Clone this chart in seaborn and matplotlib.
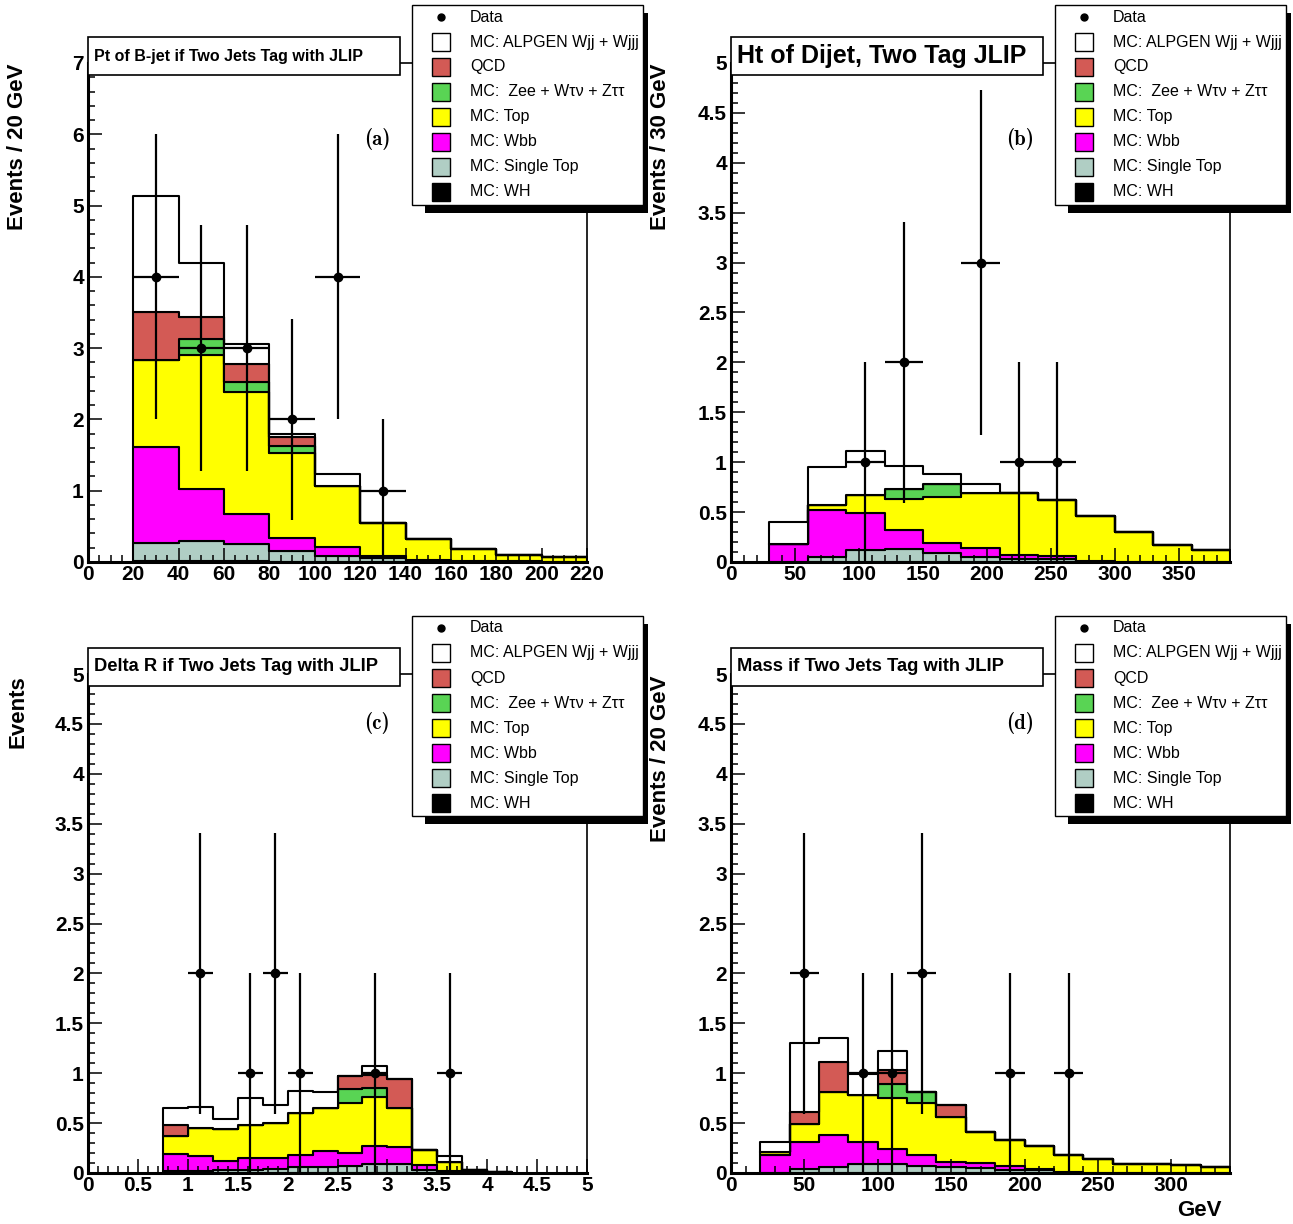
import numpy as np
import pandas as pd
import matplotlib
matplotlib.use("Agg")
import matplotlib.pyplot as plt
from matplotlib.patches import Rectangle
from matplotlib.lines import Line2D
from matplotlib.ticker import MultipleLocator, FuncFormatter
import seaborn as sns

# ---------------------------------------------------------------- data
PROCESSES = ["MC: WH", "MC: Single Top", "MC: Wbb", "MC: Top",
             "MC:  Zee + Wτν + Zττ", "QCD", "MC: ALPGEN Wjj + Wjjj"]
LEGEND_ORDER = ["MC: ALPGEN Wjj + Wjjj", "QCD", "MC:  Zee + Wτν + Zττ",
                "MC: Top", "MC: Wbb", "MC: Single Top", "MC: WH"]
COLORS = {"MC: ALPGEN Wjj + Wjjj": "#ffffff", "QCD": "#d35a55",
          "MC:  Zee + Wτν + Zττ": "#59d454", "MC: Top": "#ffff00",
          "MC: Wbb": "#ff00ff", "MC: Single Top": "#b0cec4", "MC: WH": "#000000"}

# (a) Pt of B-jet
A_EDGES = [20, 40, 60, 80, 100, 120, 140, 160, 180, 200, 220]
A_WH = [0.01, 0.01, 0.01, 0.005, 0, 0, 0, 0, 0, 0]
A_ST = [0.25, 0.29, 0.24, 0.145, 0.09, 0.05, 0.02, 0.01, 0.005, 0.005]
A_WBB = [1.36, 0.73, 0.43, 0.18, 0.12, 0.03, 0.01, 0.0, 0.005, 0.0]
A_TOP = [1.21, 1.87, 1.70, 1.20, 0.86, 0.47, 0.29, 0.17, 0.09, 0.065]
A_Z = [0.0, 0.23, 0.14, 0.10, 0, 0, 0, 0, 0, 0]
A_QCD = [0.68, 0.31, 0.26, 0.13, 0, 0, 0, 0, 0, 0]
A_ALP = [1.63, 0.75, 0.28, 0.04, 0.17, 0, 0, 0, 0, 0]
A_DATA_X = [30, 50, 70, 90, 110, 130]
A_DATA_Y = [4, 3, 3, 2, 4, 1]
A_DATA_ERR = [2.0, 1.73, 1.73, 1.41, 2.0, 1.0]

# (b) Ht of Dijet
B_EDGES = [30, 60, 90, 120, 150, 180, 210, 240, 270, 300, 330, 360, 390]
B_WH = [0, 0, 0.005, 0.005, 0.005, 0, 0, 0, 0, 0, 0, 0]
B_ST = [0.0, 0.05, 0.115, 0.125, 0.082, 0.05, 0.03, 0.03, 0.01, 0, 0, 0]
B_WBB = [0.18, 0.47, 0.37, 0.19, 0.103, 0.087, 0.04, 0.03, 0.0, 0, 0, 0]
B_TOP = [0.0, 0.05, 0.185, 0.315, 0.46, 0.553, 0.62, 0.56, 0.45, 0.30, 0.17, 0.12]
B_Z = [0, 0, 0, 0.095, 0.13, 0, 0, 0, 0, 0, 0, 0]
B_QCD = [0, 0, 0, 0, 0, 0, 0, 0, 0, 0, 0, 0]
B_ALP = [0.22, 0.38, 0.44, 0.23, 0.10, 0.09, 0, 0, 0, 0, 0, 0]
B_DATA_X = [105, 135, 195, 225, 255]
B_DATA_Y = [1, 2, 3, 1, 1]
B_DATA_ERR = [1.0, 1.41, 1.73, 1.0, 1.0]

# (c) Delta R
C_EDGES = [0.75, 1.0, 1.25, 1.5, 1.75, 2.0, 2.25, 2.5, 2.75, 3.0, 3.25, 3.5, 3.75, 4.0, 4.25]
C_WH = [0, 0, 0, 0, 0, 0.005, 0.005, 0.005, 0.005, 0.005, 0, 0, 0, 0]
C_ST = [0.02, 0.02, 0.03, 0.03, 0.04, 0.055, 0.06, 0.065, 0.085, 0.085, 0.03, 0.01, 0.01, 0.005]
C_WBB = [0.17, 0.15, 0.09, 0.125, 0.115, 0.12, 0.155, 0.135, 0.185, 0.175, 0.05, 0.01, 0.0, 0.0]
C_TOP = [0.18, 0.28, 0.325, 0.325, 0.345, 0.42, 0.435, 0.50, 0.485, 0.385, 0.15, 0.09, 0.02, 0.005]
C_Z = [0, 0, 0, 0, 0, 0, 0, 0.135, 0.095, 0, 0, 0, 0, 0]
C_QCD = [0.11, 0, 0, 0, 0, 0, 0, 0.135, 0.125, 0.29, 0, 0, 0, 0]
C_ALP = [0.175, 0.215, 0.095, 0.275, 0.18, 0.225, 0.16, 0.0, 0.095, 0.0, 0.0, 0.065, 0, 0]
C_DATA_X = [1.125, 1.625, 1.875, 2.125, 2.875, 3.625]
C_DATA_Y = [2, 1, 2, 1, 1, 1]
C_DATA_ERR = [1.41, 1.0, 1.41, 1.0, 1.0, 1.0]

# (d) Mass
D_EDGES = [20, 40, 60, 80, 100, 120, 140, 160, 180, 200, 220, 240, 260, 280, 300, 320, 340]
D_WH = [0, 0.005, 0.005, 0.005, 0.005, 0.005, 0, 0, 0, 0, 0, 0, 0, 0, 0, 0]
D_ST = [0, 0.04, 0.06, 0.082, 0.082, 0.065, 0.057, 0.05, 0.035, 0.03, 0.01, 0, 0, 0, 0, 0]
D_WBB = [0.18, 0.27, 0.315, 0.223, 0.153, 0.115, 0.05, 0.048, 0.035, 0.01, 0.0, 0, 0, 0, 0, 0]
D_TOP = [0.035, 0.175, 0.43, 0.47, 0.515, 0.52, 0.458, 0.312, 0.26, 0.23, 0.17, 0.14, 0.087, 0.09, 0.08, 0.06]
D_Z = [0, 0, 0, 0, 0.135, 0.105, 0, 0, 0, 0, 0, 0, 0, 0, 0, 0]
D_QCD = [0, 0.12, 0.30, 0, 0.14, 0, 0.12, 0, 0, 0, 0, 0, 0, 0, 0, 0]
D_ALP = [0.10, 0.695, 0.245, 0.21, 0.19, 0, 0, 0, 0, 0, 0, 0, 0, 0, 0, 0]
D_DATA_X = [50, 90, 110, 130, 190, 230]
D_DATA_Y = [2, 1, 1, 2, 1, 1]
D_DATA_ERR = [1.41, 1.0, 1.0, 1.41, 1.0, 1.0]

TITLES = ["Pt of B-jet if Two Jets Tag with JLIP", "Ht of Dijet, Two Tag JLIP",
          "Delta R if Two Jets Tag with JLIP", "Mass if Two Jets Tag with JLIP"]
YLABELS = ["Events / 20 GeV", "Events / 30 GeV", "Events", "Events / 20 GeV"]
TAGS = ["(a)", "(b)", "(c)", "(d)"]
XLABEL_D = "GeV"

# ---------------------------------------------------------------- style
W, H = 1293, 1224
plt.rcParams["font.family"] = ["Liberation Sans", "DejaVu Sans"]
fig = plt.figure(figsize=(W / 100, H / 100), dpi=100)


def px_rect(x0, y0, x1, y1, **kw):
    r = Rectangle((x0 / W, 1 - y1 / H), (x1 - x0) / W, (y1 - y0) / H,
                  transform=fig.transFigure, **kw)
    fig.add_artist(r)
    return r


def px_text(x, y, s, **kw):
    return fig.text(x / W, 1 - y / H, s, **kw)


def stack_frame(edges, layers):
    e = np.asarray(edges, dtype=float)
    centers = (e[:-1] + e[1:]) / 2
    rows = []
    for name, vals in zip(PROCESSES, layers):
        for c, v in zip(centers, vals):
            rows.append((c, v, name))
    return pd.DataFrame(rows, columns=["x", "w", "process"])


PANELS = [
    dict(edges=A_EDGES, layers=[A_WH, A_ST, A_WBB, A_TOP, A_Z, A_QCD, A_ALP],
         data=(A_DATA_X, A_DATA_Y, A_DATA_ERR), xlim=(0, 220), ylim=(0, 7),
         xmaj=20, xmin=5, ymaj=1, ymin=0.2, box=(88, 63, 587, 562), tsize=11.5,
         tag_y=139),
    dict(edges=B_EDGES, layers=[B_WH, B_ST, B_WBB, B_TOP, B_Z, B_QCD, B_ALP],
         data=(B_DATA_X, B_DATA_Y, B_DATA_ERR), xlim=(0, 390), ylim=(0, 5),
         xmaj=50, xmin=10, ymaj=0.5, ymin=0.1, box=(731, 63, 1230, 562), tsize=18,
         tag_y=139),
    dict(edges=C_EDGES, layers=[C_WH, C_ST, C_WBB, C_TOP, C_Z, C_QCD, C_ALP],
         data=(C_DATA_X, C_DATA_Y, C_DATA_ERR), xlim=(0, 5), ylim=(0, 5),
         xmaj=0.5, xmin=0.1, ymaj=0.5, ymin=0.1, box=(88, 674, 587, 1173), tsize=13.2,
         tag_y=723),
    dict(edges=D_EDGES, layers=[D_WH, D_ST, D_WBB, D_TOP, D_Z, D_QCD, D_ALP],
         data=(D_DATA_X, D_DATA_Y, D_DATA_ERR), xlim=(0, 340), ylim=(0, 5),
         xmaj=50, xmin=10, ymaj=0.5, ymin=0.1, box=(731, 674, 1230, 1173), tsize=13.2,
         tag_y=723),
]

fmt = FuncFormatter(lambda v, p: f"{v:g}")

for i, P in enumerate(PANELS):
    x0, y0, x1, y1 = P["box"]
    ax = fig.add_axes([x0 / W, 1 - y1 / H, (x1 - x0) / W, (y1 - y0) / H])
    ax.set_facecolor("white")
    df = stack_frame(P["edges"], P["layers"])
    # seaborn stacks the last hue level at the bottom
    sns.histplot(data=df, x="x", weights="w", hue="process", hue_order=PROCESSES[::-1],
                 multiple="stack", bins=P["edges"], element="step",
                 palette=COLORS, edgecolor="black", linewidth=1.5, alpha=1,
                 legend=False, ax=ax)
    dx, dy, de = P["data"]
    half = (P["edges"][1] - P["edges"][0]) / 2
    ax.errorbar(dx, dy, xerr=half, yerr=de, fmt="o", color="black", ms=6,
                elinewidth=1.6, capsize=0, zorder=10)
    ax.set_xlim(*P["xlim"])
    ax.set_ylim(*P["ylim"])
    ax.set_xlabel("")
    ax.set_ylabel("")
    ax.xaxis.set_major_locator(MultipleLocator(P["xmaj"]))
    ax.xaxis.set_minor_locator(MultipleLocator(P["xmin"]))
    ax.yaxis.set_major_locator(MultipleLocator(P["ymaj"]))
    ax.yaxis.set_minor_locator(MultipleLocator(P["ymin"]))
    ax.xaxis.set_major_formatter(fmt)
    ax.yaxis.set_major_formatter(fmt)
    ax.tick_params(which="both", direction="in", top=False, right=False,
                   width=1.1, labelsize=15)
    ax.tick_params(which="major", length=10)
    ax.tick_params(which="minor", length=5.2)
    ax.tick_params(axis="x", pad=2)
    ax.tick_params(axis="y", pad=3)
    for lab in ax.get_xticklabels() + ax.get_yticklabels():
        lab.set_fontweight("bold")
    for side in ("left", "bottom"):
        ax.spines[side].set_linewidth(2.2)
    for side in ("top", "right"):
        ax.spines[side].set_linewidth(1.2)

    # title box
    px_rect(x0, y0 - 26, x0 + 312, y0 + 12, facecolor="white", edgecolor="black",
            linewidth=1.2, zorder=15)
    px_text(x0 + 6, y0 - 7, TITLES[i], ha="left", va="center", fontsize=P["tsize"],
            fontweight="bold", zorder=16)

    # y label
    lx = 18 if x0 < 300 else 660
    px_text(lx, y0 + 1, YLABELS[i], rotation=90, ha="center", va="top",
            fontsize=16, fontweight="bold")

    # panel tag
    px_text(x1 - 210, P["tag_y"], TAGS[i], ha="center", va="center", fontsize=15,
            family=["cmb10", "DejaVu Serif"], fontweight="bold")

    # legend
    lx0 = x1 - 175
    ly0 = y0 - 58
    lx1, ly1 = lx0 + 231, ly0 + 200
    px_rect(lx0 + 13, ly1, lx1 + 5, ly1 + 8, facecolor="black", edgecolor="none", zorder=20)
    px_rect(lx1, ly0 + 8, lx1 + 5, ly1 + 8, facecolor="black", edgecolor="none", zorder=20)
    px_rect(lx0, ly0, lx1, ly1, facecolor="white", edgecolor="black", linewidth=1.0, zorder=21)
    fig.add_artist(Line2D([(lx0 + 29) / W], [1 - (ly0 + 12) / H], marker="o", ms=5,
                          color="black", linestyle="none", transform=fig.transFigure,
                          zorder=22))
    px_text(lx0 + 58, ly0 + 12, "Data", ha="left", va="center", fontsize=11.5, zorder=22)
    for k, name in enumerate(LEGEND_ORDER):
        yc = ly0 + 37 + 25 * k
        px_rect(lx0 + 20, yc - 9, lx0 + 38, yc + 9, facecolor=COLORS[name],
                edgecolor="black", linewidth=1.0, zorder=22)
        px_text(lx0 + 58, yc, name, ha="left", va="center", fontsize=11.5, zorder=22)

px_text(1222, 1210, XLABEL_D, ha="right", va="center", fontsize=16, fontweight="bold")

fig.savefig("out.png", dpi=100)
